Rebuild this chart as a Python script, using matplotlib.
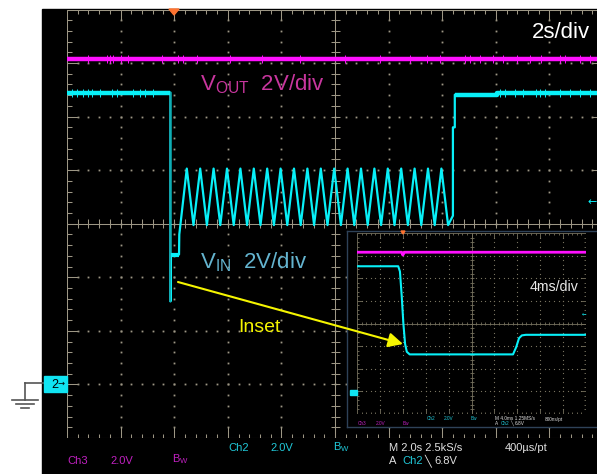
import matplotlib.pyplot as plt
from matplotlib.patches import Rectangle, Polygon
import numpy as np

plt.rcParams['font.family'] = ['Liberation Sans', 'DejaVu Sans']
plt.rcParams['mathtext.fontset'] = 'custom'
plt.rcParams['mathtext.rm'] = 'Liberation Sans'

W, H = 597, 474

# main capture: 2 s/div, 2 V/div (volts above the "2" ground marker)
vout_level = 12.15
vin_t = [0.0, 3.86, 3.86, 3.88, 4.18, 4.19]
vin_v = [10.9, 10.9, 3.1, 4.85, 4.85, 5.6]
ripple_peak_t = [4.47, 4.97, 5.47, 5.97, 6.47, 6.97, 7.47, 7.97, 8.47, 8.97,
                 9.47, 9.97, 10.47, 10.97, 11.47, 11.97, 12.47, 12.97, 13.47, 13.97]
ripple_trough_t = [4.72, 5.22, 5.72, 6.22, 6.72, 7.22, 7.72, 8.22, 8.72, 9.22,
                   9.72, 10.22, 10.72, 11.22, 11.72, 12.22, 12.72, 13.22, 13.72, 14.22]
ripple_high = 8.06
ripple_low = 5.95
recover_t = [14.40, 14.40, 14.47, 14.47, 16.04, 16.04, 20.0]
recover_v = [6.3, 9.6, 9.6, 10.82, 10.82, 10.9, 10.9]

vout_spikes = [0.78, 1.49, 1.6, 1.72, 2.01, 2.28, 3.54, 4.14, 4.33, 4.85, 6.08, 7.28,
               8.69, 10.37, 11.68, 12.8, 13.43, 13.92, 14.85, 15.04, 15.41, 15.9,
               16.27, 16.79, 17.28, 17.69, 18.4, 18.58, 19.14, 19.51]
vin_spikes = [0.19, 0.37, 0.6, 0.78, 0.93, 1.23, 1.68, 1.87, 2.46, 2.72, 2.91, 3.21,
              16.16, 16.34, 16.72, 17.01, 17.5, 17.65, 17.84, 18.4, 18.77, 19.14, 19.51]

# zoomed capture: 4 ms/div, 2 V/div
zoom_vout_t = [0.0, 7.8, 8.0, 8.3, 40.0]
zoom_vout_v = [12.3, 12.3, 12.05, 12.3, 12.3]
zoom_vin_t = [0.0, 7.2, 7.5, 7.8, 8.1, 8.4, 8.7, 9.2, 27.25, 27.8, 28.3, 28.8, 29.5, 40.0]
zoom_vin_v = [11.06, 11.06, 10.6, 8.5, 6.0, 4.2, 3.5, 3.27, 3.27, 3.9, 4.7, 4.95, 5.0, 5.0]

MAG = '#ff10ff'
CYAN = '#08f0f8'
GRAT = '#9d9785'


def graticule(ax, px_div, minor, major, color, dot, lw=0.75):
    T = ax.transAxes
    nx, ny = 10, 8
    fx, fy = px_div * nx, px_div * ny
    kw = dict(color=color, lw=lw, transform=T)
    xs = np.arange(1, nx * 5) / (nx * 5)
    ys = np.arange(1, ny * 5) / (ny * 5)
    for i in range(1, nx):
        if i != nx // 2:
            ax.plot(np.full(ys.size, i / nx), ys, ls='none', marker='s', ms=dot,
                    mew=0, color=color, transform=T)
    for j in range(1, ny):
        if j != ny // 2:
            ax.plot(xs, np.full(xs.size, j / ny), ls='none', marker='s', ms=dot,
                    mew=0, color=color, transform=T)
    # centre cross with sub-division ticks
    ax.plot([0.5, 0.5], [0, 1], **kw)
    ax.plot([0, 1], [0.5, 0.5], **kw)
    ax.hlines(ys, 0.5 - minor / fx, 0.5 + minor / fx, **kw)
    ax.vlines(xs, 0.5 - minor / fy, 0.5 + minor / fy, **kw)
    # frame with inward ticks, longer at each division
    ax.plot([0, 1, 1, 0, 0], [0, 0, 1, 1, 0], **kw)
    lx = np.array([major if k % 5 == 0 else minor for k in range(1, nx * 5)]) / fy
    ly = np.array([major if k % 5 == 0 else minor for k in range(1, ny * 5)]) / fx
    ax.vlines(xs, 0, lx, **kw)
    ax.vlines(xs, 1 - lx, 1, **kw)
    ax.hlines(ys, 0, ly, **kw)
    ax.hlines(ys, 1 - ly, 1, **kw)


fig = plt.figure(figsize=(W / 100, H / 100), dpi=100, facecolor='white')

bg = fig.add_axes([0, 0, 1, 1], zorder=0)
bg.set_xlim(0, W)
bg.set_ylim(H, 0)
bg.axis('off')
bg.add_patch(Rectangle((42, 9), W - 42, H - 9, color='black'))
# probe ground symbol
bg.plot([25, 44], [383, 383], color='#555555', lw=1.2)
bg.plot([25, 25], [383, 400], color='#555555', lw=1.2)
bg.plot([12, 38], [400, 400], color='#555555', lw=1.2)
bg.plot([16, 34], [404, 404], color='#555555', lw=1.2)
bg.plot([21, 29], [408, 408], color='#555555', lw=1.2)

# main screen
ax = fig.add_axes([67 / W, (H - 438) / H, 536 / W, 428.5 / H], zorder=1)
ax.set_xlim(0, 20)
ax.set_ylim(-2, 14)
ax.axis('off')
graticule(ax, 53.6, 4.5, 11, GRAT, 1.3)

ax.plot([0, 20], [vout_level, vout_level], color=MAG, lw=3.2, solid_capstyle='butt')
ax.vlines(vout_spikes, vout_level - 0.15, vout_level + 0.15, color=MAG, lw=0.7)

trace_t = vin_t[:]
trace_v = vin_v[:]
for tp, tt in zip(ripple_peak_t, ripple_trough_t):
    trace_t += [tp, tt]
    trace_v += [ripple_high, ripple_low]
trace_t += recover_t
trace_v += recover_v
ax.plot(trace_t, trace_v, color=CYAN, lw=1.6)
ax.plot(vin_t[1:3], vin_v[1:3], color='#14a4ac', lw=1.3)
ax.plot(vin_t[:2], vin_v[:2], color=CYAN, lw=3.2, solid_capstyle='butt')
ax.plot(vin_t[3:5], vin_v[3:5], color=CYAN, lw=3.0, solid_capstyle='butt')
ax.plot(recover_t[3:], recover_v[3:], color=CYAN, lw=3.2, solid_capstyle='butt')
ax.vlines(vin_spikes, 10.9 - 0.15, 10.9 + 0.15, color=CYAN, lw=0.7)

# zoomed capture box
box = fig.add_axes([347 / W, (H - 427) / H, 252 / W, 196 / H], zorder=2)
box.set_facecolor('black')
box.set_xticks([])
box.set_yticks([])
for s in box.spines.values():
    s.set_color('#2e4258')
    s.set_linewidth(1.0)

ins = fig.add_axes([357 / W, (H - 414) / H, 229 / W, 181 / H], zorder=3)
ins.set_xlim(0, 40)
ins.set_ylim(-2, 14)
ins.axis('off')
graticule(ins, 22.9, 2, 5, '#77725f', 0.8, lw=0.6)
ins.plot(zoom_vout_t, zoom_vout_v, color=MAG, lw=2.0)
ins.plot(zoom_vin_t, zoom_vin_v, color=CYAN, lw=1.5)

# labels, markers and arrow on top
top = fig.add_axes([0, 0, 1, 1], zorder=4)
top.set_xlim(0, W)
top.set_ylim(H, 0)
top.axis('off')

top.add_patch(Polygon([(169, 9), (179, 9), (174, 15)], color='#ff7330'))
top.add_patch(Polygon([(401, 231), (405, 231), (403, 234)], color='#ff7330'))
top.add_patch(Rectangle((44, 376), 23, 16, color='#10e4f2'))
top.text(51, 385, '2', color='black', fontsize=9, ha='left', va='center')
top.text(58, 383.5, '\u2192', color='black', fontsize=6, ha='left', va='center',
         family='DejaVu Sans')
top.add_patch(Rectangle((350, 390), 7, 5, color='#10e4f2'))
top.text(597, 202, '\u2190', color=CYAN, fontsize=8, ha='right', va='center',
         family='DejaVu Sans')
top.text(586, 314, '\u2190', color=CYAN, fontsize=4, ha='right', va='center',
         family='DejaVu Sans')

top.text(590, 32, '2s/div', color='white', fontsize=16, ha='right', va='center')
top.text(200, 84, 'V$_{\\rm OUT}$  2V/div', color='#c8369e', fontsize=16,
         ha='left', va='center')
top.text(200, 262, 'V$_{\\rm IN}$  2V/div', color='#64b4cf', fontsize=16,
         ha='left', va='center')
top.text(530, 287, '4ms/div', color='#e8e8e8', fontsize=10.2, ha='left', va='center')
top.text(238, 327, 'Inset', color='#f5f500', fontsize=14, ha='left', va='center')
top.annotate('', xy=(403, 344), xytext=(178, 282),
             arrowprops=dict(arrowstyle='-|>', color='#f5f500', lw=1.5,
                             mutation_scale=22, shrinkA=0, shrinkB=0))

# status lines
CH3 = '#c020c0'
CH2 = '#20c8d8'
LT = '#e0e0e0'
for x, y, s, c in [(67, 461, 'Ch3', CH3), (110, 461, '2.0V', CH3),
                   (228, 448, 'Ch2', CH2), (270, 448, '2.0V', CH2),
                   (389, 448, 'M 2.0s 2.5kS/s', LT), (505, 448, '400\u00b5s/pt', LT),
                   (389, 461, 'A', LT), (402, 461, 'Ch2', CH2),
                   (424, 461, '\u2572', LT), (434, 461, '6.8V', LT)]:
    top.text(x, y, s, color=c, fontsize=8, ha='left', va='center')
top.text(172, 459, 'B$_{\\rm W}$', color=CH3, fontsize=8, ha='left', va='center')
top.text(333, 447, 'B$_{\\rm W}$', color=CH2, fontsize=8, ha='left', va='center')

for x, y, s, c in [(358, 423.5, 'Ch3', CH3), (376, 423.5, '2.0V', CH3),
                   (403, 423.5, 'Bw', CH3),
                   (427, 419, 'Ch2', CH2), (444, 419, '2.0V', CH2), (471, 419, 'Bw', CH2),
                   (495, 419, 'M 4.0ms 1.25MS/s', LT), (545, 419, '800ns/pt', LT),
                   (495, 423.5, 'A', LT), (501, 423.5, 'Ch2', CH2),
                   (510, 423.5, '\u2572', LT), (515, 423.5, '6.8V', LT)]:
    top.text(x, y, s, color=c, fontsize=3.4, ha='left', va='center')

fig.savefig('out.png', dpi=100, facecolor='white')
